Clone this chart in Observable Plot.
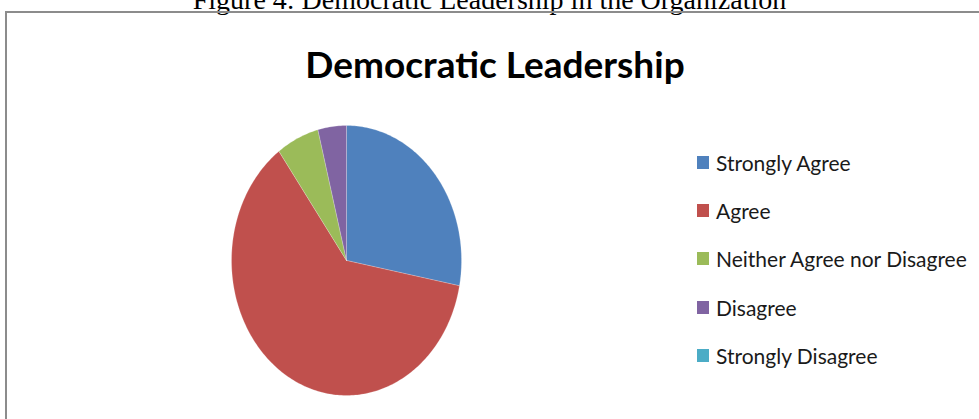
<!DOCTYPE html>
<html>
<head>
<meta charset="utf-8">
<script src="https://cdn.jsdelivr.net/npm/d3@7"></script>
<script src="https://cdn.jsdelivr.net/npm/@observablehq/plot@0.6"></script>
<style>
  html, body { margin: 0; padding: 0; background: #fff; }
  #wrap { position: relative; width: 979px; height: 419px; overflow: hidden; background: #fff; }
  #caption { position: absolute; left: 0; top: -14px; width: 979px; text-align: center;
    font-family: "Liberation Serif", "DejaVu Serif", serif; font-size: 28px; line-height: 28px; color: #000; white-space: nowrap; }
  #box { position: absolute; left: 5px; top: 11px; width: 1100px; height: 600px;
    border-top: 2px solid #8c8c8c; border-left: 2px solid #8c8c8c; }
  #chart { position: absolute; left: 0; top: 0; }
  #legend { position: absolute; left: 697px; top: 138px; font-family: Lato, "Open Sans", sans-serif; font-size: 21px; color: #1a1a1a; }
  .item { display: flex; align-items: center; height: 48.3px; }
  .sw { width: 12px; height: 13px; margin-right: 7px; flex: none; }
</style>
</head>
<body>
<div id="wrap">
  <div id="caption"></div>
  <div id="box"></div>
  <div id="chart"></div>
  <div id="legend"></div>
</div>
<script>
const figureCaption = "Figure 4: Democratic Leadership in the Organization";
const chartTitle = "Democratic Leadership";
const categories = ["Strongly Agree", "Agree", "Neither Agree nor Disagree", "Disagree", "Strongly Disagree"];
const responses = [14, 31, 3, 2, 0];
const colors = ["#4F81BD", "#C0504D", "#9BBB59", "#8064A2", "#4BACC6"];

document.getElementById("caption").textContent = figureCaption;

// Build wedge outlines (unit circle, clockwise from 12 o'clock)
const arcs = d3.pie().sort(null).startAngle(0).endAngle(2 * Math.PI)(responses);
const wedgePoints = [];
arcs.forEach((a, i) => {
  if (a.endAngle - a.startAngle <= 0) return;
  const cat = categories[i];
  wedgePoints.push({cat, x: 0, y: 0});
  const steps = Math.max(2, Math.ceil((a.endAngle - a.startAngle) * 180 / Math.PI));
  for (let k = 0; k <= steps; k++) {
    const t = a.startAngle + (a.endAngle - a.startAngle) * k / steps;
    wedgePoints.push({cat, x: Math.sin(t), y: Math.cos(t)});
  }
  wedgePoints.push({cat, x: 0, y: 0});
});

const chart = Plot.plot({
  width: 979,
  height: 419,
  margin: 0,
  style: {background: "transparent", overflow: "visible"},
  x: {domain: [-1, 1], range: [231, 461], axis: null},
  y: {domain: [-1, 1], range: [395, 125], axis: null},
  color: {domain: categories, range: colors},
  marks: [
    Plot.line(wedgePoints, {x: "x", y: "y", z: "cat", fill: "cat", stroke: "#ffffff", strokeOpacity: 0.35, strokeWidth: 0.6, curve: "linear"}),
    Plot.text([chartTitle], {frameAnchor: "top", dx: 5, dy: 66, lineAnchor: "middle", textAnchor: "middle",
      fontSize: 37, fontWeight: "bold", fontFamily: "Lato, 'Open Sans', sans-serif", fill: "#000"})
  ]
});
document.getElementById("chart").appendChild(chart);

const legend = document.getElementById("legend");
categories.forEach((c, i) => {
  const row = document.createElement("div");
  row.className = "item";
  const sw = document.createElement("span");
  sw.className = "sw";
  sw.style.background = colors[i];
  const tx = document.createElement("span");
  tx.textContent = c;
  row.appendChild(sw);
  row.appendChild(tx);
  legend.appendChild(row);
});
</script>
</body>
</html>
